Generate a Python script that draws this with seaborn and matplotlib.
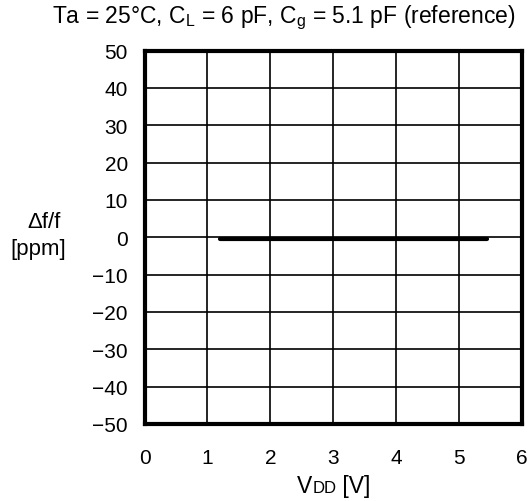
import matplotlib
matplotlib.use("Agg")
import matplotlib.pyplot as plt
import seaborn as sns
import pandas as pd
from matplotlib.offsetbox import TextArea, HPacker, AnchoredOffsetbox

# Data
vdd = [1.2, 1.5, 2.0, 2.5, 3.0, 3.5, 4.0, 4.5, 5.0, 5.45]
dfdf = [-0.5, -0.5, -0.5, -0.5, -0.5, -0.5, -0.5, -0.5, -0.5, -0.5]
x_ticks = [0, 1, 2, 3, 4, 5, 6]
y_ticks = [-50, -40, -30, -20, -10, 0, 10, 20, 30, 40, 50]
title = "Ta = 25°C, C$_\\mathregular{L}$ = 6 pF, C$_\\mathregular{g}$ = 5.1 pF (reference)"

sns.set_theme(style="white")
plt.rcParams['font.family'] = ['Liberation Sans', 'DejaVu Sans']
plt.rcParams['mathtext.fontset'] = 'custom'
plt.rcParams['mathtext.rm'] = 'Liberation Sans'
plt.rcParams['axes.unicode_minus'] = True

FS = 15

df = pd.DataFrame({"vdd": vdd, "dfdf": dfdf})

fig = plt.figure(figsize=(5.30, 5.02), dpi=100)
L, R, T, B = 144.5, 522, 51.5, 425
ax = fig.add_axes([L/530, 1-B/502, (R-L)/530, (B-T)/502])

sns.lineplot(data=df, x="vdd", y="dfdf", ax=ax, color="black", linewidth=3, zorder=3)

ax.set_xlim(0, 6)
ax.set_ylim(-50, 50)
ax.set_xticks(x_ticks)
ax.set_yticks(y_ticks)
ax.grid(True, color="black", linewidth=1.2)
ax.set_axisbelow(True)
for s in ax.spines.values():
    s.set_color("black")
    s.set_linewidth(3)
ax.tick_params(axis="both", length=0, labelsize=FS, colors="black")
ax.tick_params(axis="y", pad=12)
ax.tick_params(axis="x", pad=17)
ax.set_xlabel("")
ax.set_ylabel("")

fig.text(44/530, 1-222/502, "Δf/f", ha="center", va="center", fontsize=16, color="black")
fig.text(38/530, 1-249/502, "[ppm]", ha="center", va="center", fontsize=16, color="black")

fig.text(284/530, 1-18/502, title, ha="center", va="center", fontsize=16.5, color="black")

# x label: V with small caps DD
ta1 = TextArea("V", textprops=dict(fontsize=16.5, color="black"))
ta2 = TextArea("DD", textprops=dict(fontsize=12, color="black"))
ta3 = TextArea(" [V]", textprops=dict(fontsize=16.5, color="black"))
pack = HPacker(children=[ta1, ta2, ta3], align="baseline", pad=0, sep=0)
box = AnchoredOffsetbox(loc="center", child=pack, pad=0, frameon=False,
                        bbox_to_anchor=(334/530, 1-487/502),
                        bbox_transform=fig.transFigure, borderpad=0)
fig.add_artist(box)

fig.savefig("out.png", dpi=100)
